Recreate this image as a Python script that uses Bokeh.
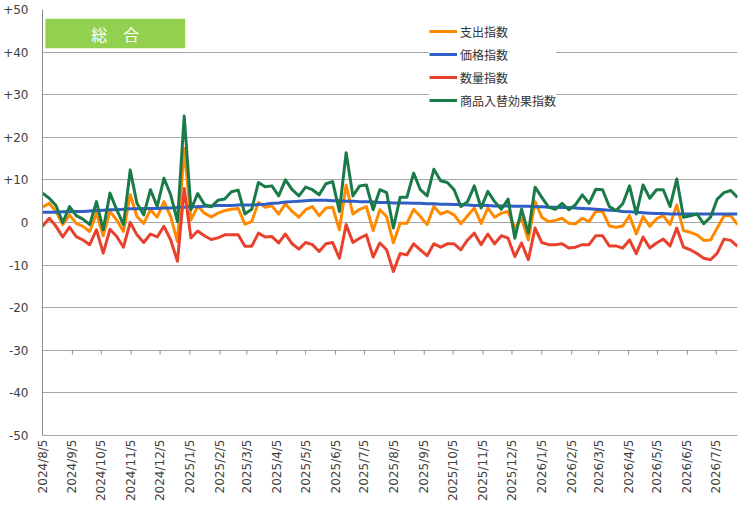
import math
import pandas as pd
from bokeh.plotting import figure
from bokeh.models import Range1d, BoxAnnotation, Label, Legend
from bokeh.embed import file_html
from bokeh.resources import INLINE

# weekly dates
start = pd.Timestamp("2024-08-05")
dates = pd.date_range(start, periods=104, freq="7D")
tick_dates = pd.date_range("2024-08-01", "2026-07-01", freq="MS") + pd.Timedelta(days=4)

y_ticks = [-50, -40, -30, -20, -10, 0, 10, 20, 30, 40, 50]

# 支出指数
spend = [3.6, 4.5, 2.6, -0.5, 1.8, -0.2, -0.9, -2.1, 2.2, -3.1, 2.6, 0.6, -2.1, 6.5,
         1.4, -0.2, 3.0, 1.25, 4.9, 1.4, -4.5, 17.4, 0.6, 3.8, 2.2, 1.3, 2.2,
         2.8, 3.1, 3.3, -0.4, 0.2, 4.7, 3.6, 3.9, 2.0, 4.4, 2.6, 1.25, 3.0,
         3.75, 1.6, 3.4, 3.6, -1.7, 8.8, 2.0, 3.1, 3.75, -1.9, 3.0, 1.4, -4.8,
         -0.2, -0.2, 3.1, 1.4, -0.5, 3.75, 2.0, 2.6, 1.8, -0.3, 1.6, 3.4, -0.2,
         3.4, 1.25, 2.2, 2.6, -1.3, 1.0, -4.1, 4.9, 1.25, 0.2, 0.5, 1.0, -0.2,
         -0.3, 1.0, 0.2, 2.6, 2.6, -0.8, -1.1, -0.8, 1.6, -2.7, 1.4, -0.9, 0.9,
         1.6, -0.5, 4.1, -1.9, -2.3, -2.9, -4.2, -4.1, -1.3, 1.6, 1.6, -0.5]

# 価格指数
price = [2.4, 2.4, 2.4, 2.5, 2.5, 2.6, 2.6, 2.7, 2.8, 2.9, 3.0, 3.0, 3.1, 3.2,
         3.2, 3.3, 3.3, 3.3, 3.4, 3.4, 3.5, 3.6, 3.7, 3.7, 3.8, 3.9, 4.0,
         4.0, 4.0, 4.1, 4.1, 4.1, 4.2, 4.3, 4.5, 4.6, 4.8, 4.9, 5.0, 5.1,
         5.2, 5.2, 5.2, 5.1, 5.1, 5.0, 5.0, 4.9, 4.9, 4.8, 4.7, 4.7, 4.6,
         4.6, 4.6, 4.5, 4.5, 4.4, 4.4, 4.3, 4.3, 4.2, 4.2, 4.1, 4.0, 4.0,
         4.0, 3.9, 3.9, 3.9, 3.8, 3.8, 3.8, 3.7, 3.7, 3.6, 3.6, 3.5, 3.5,
         3.4, 3.3, 3.2, 3.1, 3.0, 2.9, 2.8, 2.6, 2.5, 2.4, 2.3, 2.2, 2.1,
         2.1, 2.0, 2.0, 2.0, 2.0, 2.0, 2.0, 2.0, 2.0, 2.0, 2.0, 2.0]

# 数量指数
quantity = [-0.9, 1.0, -0.9, -3.4, -1.1, -3.3, -4.1, -5.2, -1.7, -7.2, -1.6, -3.3, -5.8, 0.0,
            -2.9, -4.7, -2.7, -3.4, -0.9, -4.1, -9.1, 8.0, -3.6, -2.0, -3.1, -4.0, -3.6,
            -2.9, -2.9, -2.9, -5.6, -5.6, -2.5, -3.4, -3.3, -4.8, -2.7, -5.0, -6.25, -4.7,
            -5.2, -6.8, -5.0, -4.7, -8.4, -0.5, -4.7, -3.7, -2.9, -8.1, -4.8, -6.4, -11.5,
            -7.3, -7.6, -5.0, -6.4, -7.8, -5.0, -5.8, -5.0, -5.0, -6.4, -4.1, -2.5, -5.2,
            -2.7, -5.0, -3.1, -3.7, -8.0, -4.8, -8.75, -1.3, -4.7, -5.2, -5.2, -5.0, -6.0,
            -5.8, -5.2, -5.2, -3.1, -3.1, -5.5, -5.5, -6.0, -4.1, -7.3, -3.4, -6.0, -4.8,
            -3.9, -5.5, -1.3, -5.8, -6.4, -7.3, -8.4, -8.75, -7.2, -3.9, -4.2, -5.6]

# 商品入替効果指数
replace = [6.9, 5.7, 4.0, 0.0, 3.75, 1.6, 0.8, -0.5, 4.9, -1.7, 6.9, 3.0, -0.5, 12.3,
           4.5, 1.8, 7.7, 3.75, 10.4, 6.5, 0.2, 25.0, 3.0, 6.8, 4.2, 3.7, 5.2,
           5.5, 7.2, 7.6, 2.0, 3.1, 9.4, 8.4, 8.6, 6.25, 10.0, 7.7, 6.25, 8.3,
           7.7, 6.5, 9.1, 9.6, 2.6, 16.4, 6.25, 8.6, 8.8, 3.0, 7.7, 7.0, -1.3,
           5.9, 5.9, 11.6, 7.7, 6.25, 12.5, 9.8, 9.4, 7.7, 3.75, 4.9, 8.6, 3.4,
           7.3, 4.9, 3.1, 5.5, -3.7, 3.1, -2.5, 8.3, 5.9, 3.6, 3.1, 4.5, 3.0,
           4.2, 6.5, 4.5, 7.8, 7.7, 3.75, 2.8, 4.4, 8.6, 2.0, 8.8, 5.7, 7.7,
           7.7, 3.75, 10.2, 1.25, 1.6, 2.0, -0.3, 1.25, 5.5, 7.0, 7.5, 5.9]

x = [int(d) for d in (dates - start).days]
x_ticks = [int(d) for d in (tick_dates - start).days]
x_labels = {t: f"{d.year}/{d.month}/{d.day}" for t, d in zip(x_ticks, tick_dates)}
y_labels = {t: (f"+{t}" if t > 0 else str(t)) for t in y_ticks}

p = figure(width=745, height=510, output_backend="svg", toolbar_location=None,
           x_range=Range1d(x[0], x[-1]), y_range=Range1d(-50, 50),
           min_border_left=40, min_border_right=8, min_border_top=9, min_border_bottom=75)
p.outline_line_color = None
p.background_fill_color = "white"
p.xgrid.visible = False
p.ygrid.grid_line_color = "#a6a6a6"
p.ygrid.grid_line_width = 1

p.yaxis.ticker = y_ticks
p.yaxis.major_label_overrides = y_labels
p.yaxis.major_tick_out = 0
p.yaxis.major_tick_in = 0
p.yaxis.minor_tick_out = 0
p.yaxis.minor_tick_in = 0
p.yaxis.major_label_standoff = 14
p.yaxis.axis_line_color = "#8c8c8c"

p.xaxis.ticker = x_ticks
p.xaxis.major_label_overrides = x_labels
p.xaxis.major_label_orientation = math.pi / 2
p.xaxis.major_tick_out = 0
p.xaxis.major_tick_in = 0
p.xaxis.minor_tick_out = 0
p.xaxis.minor_tick_in = 0
p.xaxis.major_label_standoff = 4
p.xaxis.axis_line_color = "#a6a6a6"

for ax in (p.xaxis, p.yaxis):
    ax.major_label_text_font = "DejaVu Sans"
    ax.major_label_text_font_size = "12px"
    ax.major_label_text_color = "#404040"

# horizontal axis crosses at -30: tick marks there
p.segment(x0=x_ticks, y0=[-30] * len(x_ticks), x1=x_ticks, y1=[-31] * len(x_ticks),
          line_color="#8c8c8c", line_width=1)

r_spend = p.line(x, spend, line_color="#ff8a00", line_width=3, line_join="round")
r_price = p.line(x, price, line_color="#2e5ec6", line_width=3, line_join="round")
r_qty = p.line(x, quantity, line_color="#e8412e", line_width=3, line_join="round")
r_repl = p.line(x, replace, line_color="#1a7a48", line_width=3, line_join="round")

legend = Legend(items=[("支出指数", [r_spend]), ("価格指数", [r_price]),
                       ("数量指数", [r_qty]), ("商品入替効果指数", [r_repl])],
                location=(387, 325))
legend.label_text_font = "Noto Sans CJK JP"
legend.label_text_font_size = "12px"
legend.label_text_color = "#333333"
legend.glyph_width = 28
legend.glyph_height = 20
legend.label_height = 20
legend.label_standoff = 3
legend.spacing = 3
legend.padding = 5
legend.margin = 0
legend.border_line_color = None
legend.background_fill_color = "white"
legend.background_fill_alpha = 1
p.add_layout(legend)

# title box
box = BoxAnnotation(left=3, right=148, bottom=40.9, top=47.8, fill_color="#92d050",
                    fill_alpha=1, line_color=None)
p.add_layout(box)
title = Label(x=75.5, y=44.35, text="総　合", text_color="white",
              text_font="Noto Sans CJK JP", text_font_size="16px",
              text_align="center", text_baseline="middle")
p.add_layout(title)

open("out.html", "w").write(file_html(p, INLINE))
